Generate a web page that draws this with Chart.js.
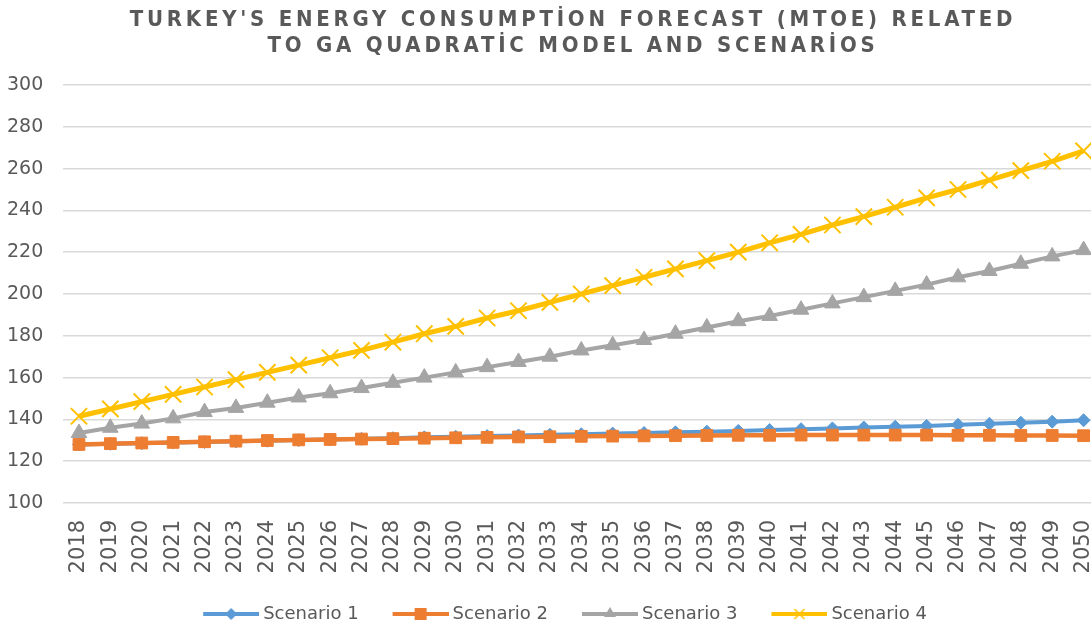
<!DOCTYPE html>
<html>
<head>
<meta charset="utf-8">
<title>Turkey energy consumption forecast</title>
<script src="https://cdn.jsdelivr.net/npm/chart.js@4.4.0/dist/chart.umd.min.js"></script>
<style>
  html, body { margin: 0; padding: 0; background: #fff; overflow: hidden; }
  #wrap { position: relative; width: 1091px; height: 627px; overflow: hidden; }
  #forecastChart { position: absolute; left: -19px; top: 0; }
  #title {
    position: absolute; top: 6px; left: 2px; width: 1142px;
    text-align: center; color: #595959;
    font-family: "DejaVu Sans Condensed", "DejaVu Sans", sans-serif;
    font-weight: bold; font-size: 22px; line-height: 26px; letter-spacing: 3.75px;
  }
</style>
</head>
<body>
<div id="wrap">
  <canvas id="forecastChart" width="1145" height="633"></canvas>
  <div id="title">TURKEY'S ENERGY CONSUMPTİON FORECAST (MTOE) RELATED<br>TO GA QUADRATİC MODEL AND SCENARİOS</div>
</div>
<script>
// Data (MTOE)
const years = ['2018', '2019', '2020', '2021', '2022', '2023', '2024', '2025', '2026', '2027', '2028',
    '2029', '2030', '2031', '2032', '2033', '2034', '2035', '2036', '2037', '2038', '2039', '2040',
    '2041', '2042', '2043', '2044', '2045', '2046', '2047', '2048', '2049', '2050'];

const scenario1 = [128.0, 128.3, 128.6, 128.9, 129.2, 129.5, 129.8, 130.1, 130.4, 130.7, 131.0,
    131.4, 131.7, 132.0, 132.3, 132.6, 132.9, 133.2, 133.5, 133.8, 134.1, 134.5, 134.9,
    135.3, 135.7, 136.1, 136.5, 136.9, 137.4, 137.9, 138.4, 138.9, 139.6];

const scenario2 = [128.0, 128.4, 128.7, 129.0, 129.3, 129.6, 129.9, 130.2, 130.4, 130.6, 130.8,
    131.0, 131.2, 131.4, 131.6, 131.7, 131.9, 132.0, 132.1, 132.2, 132.3, 132.4, 132.4,
    132.5, 132.5, 132.5, 132.5, 132.5, 132.4, 132.4, 132.3, 132.3, 132.2];

const scenario3 = [133.5, 136.0, 138.0, 140.5, 143.5, 145.5, 148.0, 150.5, 152.5, 155.0, 157.5,
    160.0, 162.5, 165.0, 167.5, 170.0, 173.0, 175.5, 178.0, 181.0, 184.0, 187.0, 189.5,
    192.5, 195.5, 198.5, 201.5, 204.5, 208.0, 211.0, 214.5, 218.0, 221.0];

const scenario4 = [141.5, 145.0, 148.5, 152.0, 155.5, 159.0, 162.5, 166.0, 169.5, 173.0, 177.0,
    181.0, 184.5, 188.5, 192.0, 196.0, 200.0, 204.0, 208.0, 212.0, 216.0, 220.0, 224.5,
    228.5, 233.0, 237.0, 241.5, 246.0, 250.0, 254.5, 259.0, 263.5, 268.5];

const yMin = 100;
const yMax = 300;
const yStep = 20;

const seriesNames = ['Scenario 1', 'Scenario 2', 'Scenario 3', 'Scenario 4'];
const seriesColors = ['#5B9BD5', '#ED7D31', '#A5A5A5', '#FFC000'];

Chart.defaults.font.family = '"DejaVu Sans", sans-serif';
Chart.defaults.color = '#595959';

// Legend swatch: short line with the marker in the middle (like Excel).
// Left part of the image is blank so the items get more room between them.
function makeSwatch(color, marker) {
    const c = document.createElement('canvas');
    c.width = 80;
    c.height = 22;
    const g = c.getContext('2d');
    const mx = 52, my = 11;
    g.strokeStyle = color;
    g.fillStyle = color;
    g.lineWidth = 4;
    g.beginPath();
    g.moveTo(24, my);
    g.lineTo(80, my);
    g.stroke();
    g.beginPath();
    if (marker === 'diamond') {
        g.moveTo(mx, my - 6); g.lineTo(mx + 6, my); g.lineTo(mx, my + 6); g.lineTo(mx - 6, my);
        g.closePath(); g.fill();
    } else if (marker === 'square') {
        g.fillRect(mx - 6, my - 6, 12, 12);
    } else if (marker === 'triangle') {
        g.moveTo(mx, my - 7); g.lineTo(mx + 6, my + 3); g.lineTo(mx - 6, my + 3);
        g.closePath(); g.fill();
    } else {
        g.lineWidth = 1.5;
        g.moveTo(mx - 5, my - 5); g.lineTo(mx + 5, my + 5);
        g.moveTo(mx + 5, my - 5); g.lineTo(mx - 5, my + 5);
        g.stroke();
    }
    return c;
}

const swatches = [
    makeSwatch(seriesColors[0], 'diamond'),
    makeSwatch(seriesColors[1], 'square'),
    makeSwatch(seriesColors[2], 'triangle'),
    makeSwatch(seriesColors[3], 'cross')
];

const ctx = document.getElementById('forecastChart').getContext('2d');

const forecastChart = new Chart(ctx, {
    type: 'line',
    data: {
        labels: years,
        datasets: [{
            label: seriesNames[0],
            data: scenario1,
            borderColor: seriesColors[0],
            backgroundColor: seriesColors[0],
            borderWidth: 4,
            pointStyle: 'rectRot',
            pointRadius: 6.5,
            pointBorderWidth: 1,
            order: 3
        }, {
            label: seriesNames[1],
            data: scenario2,
            borderColor: seriesColors[1],
            backgroundColor: seriesColors[1],
            borderWidth: 4.5,
            pointStyle: 'rect',
            pointRadius: 8.3,
            pointBorderWidth: 1,
            order: 2
        }, {
            label: seriesNames[2],
            data: scenario3,
            borderColor: seriesColors[2],
            backgroundColor: seriesColors[2],
            borderWidth: 4,
            pointStyle: 'triangle',
            pointRadius: 9,
            pointBorderWidth: 1,
            order: 1
        }, {
            label: seriesNames[3],
            data: scenario4,
            borderColor: seriesColors[3],
            backgroundColor: seriesColors[3],
            borderWidth: 5,
            pointStyle: 'crossRot',
            pointRadius: 11.5,
            pointBorderWidth: 2,
            order: 0
        }]
    },
    options: {
        responsive: false,
        animation: false,
        events: [],
        layout: {
            padding: { top: 85, left: 6, right: 2, bottom: 0 }
        },
        scales: {
            x: {
                offset: true,
                grid: { display: false, drawTicks: false },
                border: { display: false },
                afterFit: (scale) => { scale.height = 87; },
                ticks: {
                    autoSkip: false,
                    minRotation: 90,
                    maxRotation: 90,
                    padding: 17,
                    font: { size: 21 },
                    color: '#595959'
                }
            },
            y: {
                min: yMin,
                max: yMax,
                grid: { color: '#D9D9D9', lineWidth: 1.5, drawTicks: false },
                border: { display: false },
                ticks: {
                    stepSize: yStep,
                    padding: 20,
                    font: { size: 19 },
                    color: '#595959'
                }
            }
        },
        plugins: {
            title: { display: false },
            tooltip: { enabled: false },
            legend: {
                position: 'bottom',
                labels: {
                    usePointStyle: true,
                    pointStyleWidth: 70,
                    padding: 15,
                    font: { size: 18 },
                    color: '#595959',
                    generateLabels: (chart) => chart.data.datasets.map((ds, i) => ({
                        text: ds.label,
                        pointStyle: swatches[i],
                        fillStyle: ds.borderColor,
                        strokeStyle: ds.borderColor,
                        lineWidth: 0,
                        fontColor: '#595959',
                        datasetIndex: i,
                        hidden: false
                    }))
                }
            }
        }
    }
});
</script>
</body>
</html>
